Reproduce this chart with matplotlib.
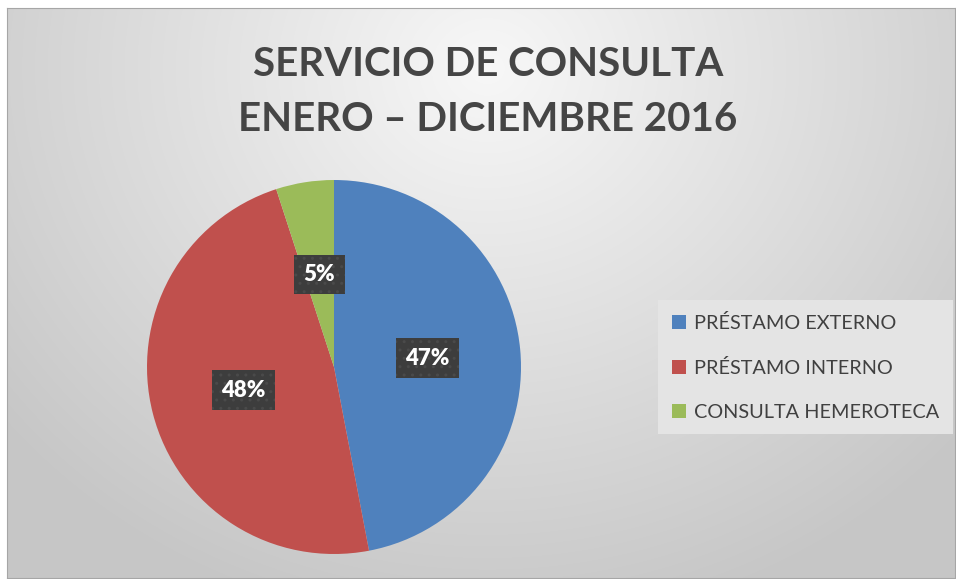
import numpy as np
import matplotlib.pyplot as plt

# datos del grafico
categorias = ['PRÉSTAMO EXTERNO', 'PRÉSTAMO INTERNO', 'CONSULTA HEMEROTECA']
porcentajes = [47, 48, 5]
colores = ['#4F81BD', '#C0504D', '#9BBB59']
titulo = 'SERVICIO DE CONSULTA\nENERO – DICIEMBRE 2016'

W, H = 956, 579
fig = plt.figure(figsize=(W / 100, H / 100), dpi=100)
fig.patch.set_facecolor('white')

# fondo con degradado radial
bg = fig.add_axes([7 / W, 1 / H, 948 / W, 570 / H])
yy, xx = np.mgrid[0:570, 0:948]
d = np.sqrt(((xx - 480) / 620.0) ** 2 + ((yy - 60) / 560.0) ** 2)
d = np.clip(d, 0, 1)
g = 0.97 - 0.19 * d
bg.imshow(np.dstack([g, g, g]), aspect='auto', interpolation='bilinear')
bg.set_xticks([])
bg.set_yticks([])
for s in bg.spines.values():
    s.set_color('#a6a6a6')
    s.set_linewidth(0.8)

# titulo
fig.text(488 / W, 1 - 92 / H, titulo, ha='center', va='center',
         fontsize=29, fontweight='bold', color='#454545',
         family='Lato', linespacing=1.6)

# pastel
cx, cy, r = 334, 367, 187
ax = fig.add_axes([(cx - r) / W, (H - cy - r) / H, 2 * r / W, 2 * r / H])
wedges, textos, autotextos = ax.pie(
    porcentajes, colors=colores, startangle=90, counterclock=False,
    autopct='%1.0f%%', pctdistance=0.5, radius=1,
    wedgeprops=dict(linewidth=0),
    textprops=dict(color='white', fontsize=16, fontweight='heavy', family='Lato'))
for t in autotextos:
    t.set_bbox(dict(boxstyle='square,pad=0.42', facecolor='#3d3d3d',
                    edgecolor='#4a4a4a', hatch='..', linewidth=0))
ax.set_xlim(-1, 1)
ax.set_ylim(-1, 1)
ax.set_aspect('equal')
ax.axis('off')

# leyenda
leg = fig.legend(wedges, categorias, loc='upper left',
                 bbox_to_anchor=(658 / W, 1 - 300 / H), borderaxespad=0,
                 frameon=True, fancybox=False, handlelength=0.7, handleheight=0.7,
                 handletextpad=0.4, labelspacing=1.35, borderpad=0.7,
                 prop=dict(family='Lato', size=14.3))
leg.get_frame().set_facecolor('#e4e4e4')
leg.get_frame().set_edgecolor('none')
leg.get_frame().set_alpha(1)
for t in leg.get_texts():
    t.set_color('#404040')

fig.savefig('out.png', dpi=100)
